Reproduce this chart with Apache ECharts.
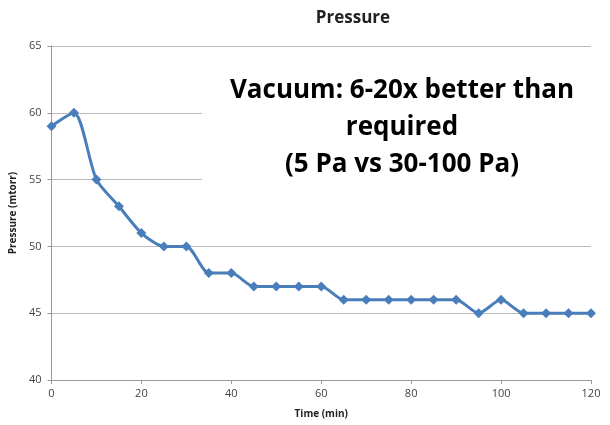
<!DOCTYPE html>
<html>
<head>
<meta charset="utf-8">
<script src="https://cdn.jsdelivr.net/npm/echarts@6/dist/echarts.min.js"></script>
<style>
  html, body { margin: 0; padding: 0; background: #fff; }
  #chart { width: 610px; height: 425px; }
</style>
</head>
<body>
<div id="chart"></div>
<script>
const times = [0, 5, 10, 15, 20, 25, 30, 35, 40, 45, 50, 55, 60, 65, 70, 75, 80, 85, 90, 95, 100, 105, 110, 115, 120]
const pressure = [59, 60, 55, 53, 51, 50, 50, 48, 48, 47, 47, 47, 47, 46, 46, 46, 46, 46, 46, 45, 46, 45, 45, 45, 45]
const noteLines = ['Vacuum: 6-20x better than', 'required', '(5 Pa vs 30-100 Pa)']

const font = '"Open Sans", "Noto Sans", sans-serif'
const chart = echarts.init(document.getElementById('chart'))

chart.setOption({
  animation: false,
  title: {
    text: 'Pressure',
    left: 348,
    top: 5,
    textAlign: 'center',
    textStyle: { fontFamily: font, fontSize: 17, fontWeight: 'bold', color: '#222' }
  },
  grid: { left: 50, right: 19, top: 46, bottom: 45 },
  xAxis: {
    type: 'value',
    min: 0,
    max: 120,
    interval: 20,
    name: 'Time (min)',
    nameLocation: 'middle',
    nameGap: 29,
    nameTextStyle: { fontFamily: font, fontSize: 10, fontWeight: 'bold', color: '#222' },
    axisLine: { lineStyle: { color: '#999' } },
    axisTick: { show: true, length: 4, lineStyle: { color: '#999' } },
    axisLabel: { fontFamily: font, fontSize: 11, color: '#444', margin: 8 },
    splitLine: { show: false }
  },
  yAxis: {
    type: 'value',
    min: 40,
    max: 65,
    interval: 5,
    name: 'Pressure (mtorr)',
    nameLocation: 'middle',
    nameGap: 30,
    nameRotate: 90,
    nameTextStyle: { fontFamily: font, fontSize: 10, fontWeight: 'bold', color: '#222' },
    axisLine: { show: true, lineStyle: { color: '#999' } },
    axisTick: { show: true, length: 4, lineStyle: { color: '#999' } },
    axisLabel: { fontFamily: font, fontSize: 11, color: '#444', margin: 10 },
    splitLine: { lineStyle: { color: '#bbb', width: 1 } }
  },
  series: [{
    type: 'line',
    data: times.map((t, i) => [t, pressure[i]]),
    smooth: 0.25,
    symbol: 'diamond',
    symbolSize: 10,
    lineStyle: { color: '#4a7ebb', width: 3 },
    itemStyle: { color: '#4a7ebb' },
    z: 3
  }],
  graphic: [{
    // white text box that hides the gridlines behind the note
    type: 'rect',
    shape: { x: 202, y: 56, width: 401, height: 146 },
    style: { fill: '#fff' },
    z: 9
  }, {
    type: 'text',
    x: 402,
    y: 72,
    z: 10,
    style: {
      text: noteLines.join('\n'),
      align: 'center',
      verticalAlign: 'top',
      fontFamily: font,
      fontSize: 26,
      fontWeight: 'bold',
      lineHeight: 37,
      fill: '#000'
    }
  }]
})
</script>
</body>
</html>
